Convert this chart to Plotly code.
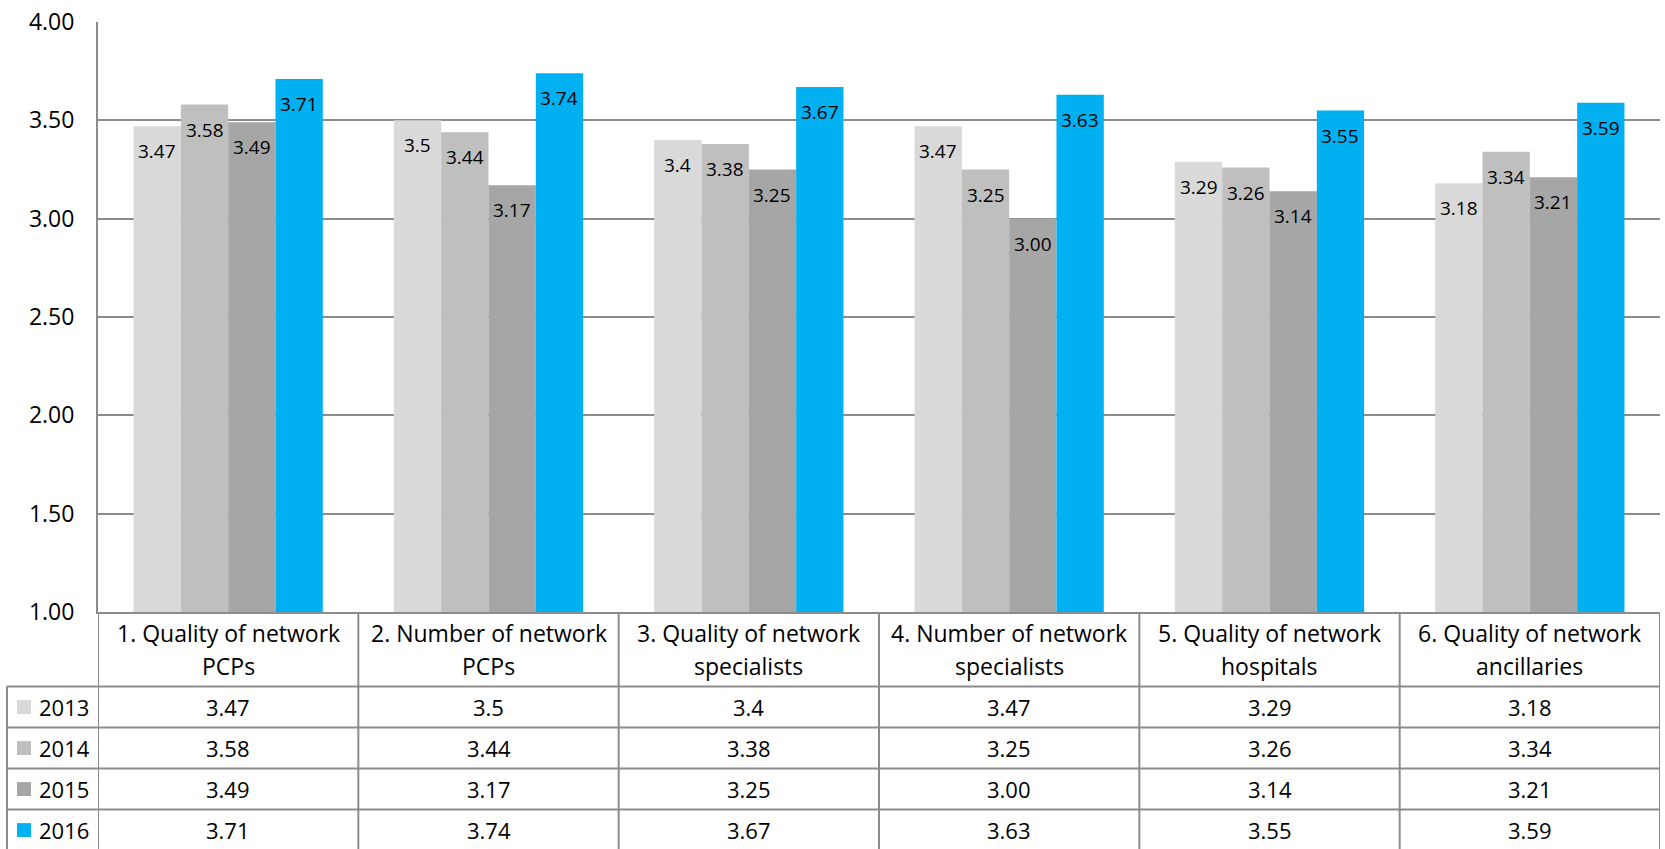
import plotly.graph_objects as go

# data
categories = [
    "1. Quality of network<br>PCPs",
    "2. Number of network<br>PCPs",
    "3. Quality of network<br>specialists",
    "4. Number of network<br>specialists",
    "5. Quality of network<br>hospitals",
    "6. Quality of network<br>ancillaries",
]
years = ["2013", "2014", "2015", "2016"]
scores_2013 = [3.47, 3.5, 3.4, 3.47, 3.29, 3.18]
scores_2014 = [3.58, 3.44, 3.38, 3.25, 3.26, 3.34]
scores_2015 = [3.49, 3.17, 3.25, 3.00, 3.14, 3.21]
scores_2016 = [3.71, 3.74, 3.67, 3.63, 3.55, 3.59]
y_ticks = [1.0, 1.5, 2.0, 2.5, 3.0, 3.5, 4.0]

series = [scores_2013, scores_2014, scores_2015, scores_2016]
colors = ["#d9d9d9", "#bfbfbf", "#a6a6a6", "#00b0f0"]
# 2013 is shown in general number format, the other years with 2 decimals
label_formats = ["{:g}", "{:.2f}", "{:.2f}", "{:.2f}"]

# page geometry (pixels)
W, H = 1665, 849
ML, MR, MT, MB = 98, 5, 18, 237
PLOT_W = W - ML - MR
PLOT_H = H - MT - MB
PLOT_BOTTOM = H - MB
HEADER_H = 75
ROW_H = 41.3
LEGEND_LEFT = 7
BARGAP = 0.273
LABEL_DROP = 25  # bar value labels sit this far below the bar top
LINE_COLOR = "#8c8c8c"
FONT = "Open Sans"


def px_x(px):
    return (px - ML) / PLOT_W


def px_y(py):
    return (PLOT_BOTTOM - py) / PLOT_H


fig = go.Figure()
shapes = []
annotations = []

n_series = len(series)
bar_w = (1 - BARGAP) / n_series
for k, (year, vals, color, fmt) in enumerate(zip(years, series, colors, label_formats)):
    fig.add_trace(go.Bar(
        x=list(range(len(categories))),
        y=vals,
        name=year,
        marker=dict(color=color, line=dict(width=0)),
        hoverinfo="skip",
    ))
    # value labels inside the top of each bar
    offset = -(1 - BARGAP) / 2 + (k + 0.5) * bar_w
    for i, v in enumerate(vals):
        annotations.append(dict(
            x=i + offset, xref="x", y=v, yref="y", yshift=-LABEL_DROP,
            text=fmt.format(v), showarrow=False, xanchor="center", yanchor="middle",
            font=dict(family=FONT, size=19, color="#000000"),
        ))

# header row: category names, two lines each
header_top = PLOT_BOTTOM
header_bottom = PLOT_BOTTOM + HEADER_H
line_centers = [header_top + 21, header_top + 54]
for i, cat in enumerate(categories):
    for j, part in enumerate(cat.split("<br>")):
        annotations.append(dict(
            x=i, xref="x", y=px_y(line_centers[j]), yref="paper",
            text=part, showarrow=False, xanchor="center", yanchor="middle",
            font=dict(family=FONT, size=23, color="#000000"),
        ))

# data rows
bottom = header_bottom + ROW_H * len(years)
for r, (year, vals, color, fmt) in enumerate(zip(years, series, colors, label_formats)):
    top = header_bottom + ROW_H * r
    mid = top + ROW_H / 2
    for i, v in enumerate(vals):
        annotations.append(dict(
            x=i, xref="x", y=px_y(mid), yref="paper",
            text=fmt.format(v), showarrow=False, xanchor="center", yanchor="middle",
            font=dict(family=FONT, size=22, color="#000000"),
        ))
    annotations.append(dict(
        x=px_x(37), xref="paper", y=px_y(mid), yref="paper",
        text=year, showarrow=False, xanchor="left", yanchor="middle",
        font=dict(family=FONT, size=22, color="#000000"),
    ))
    # legend swatch
    shapes.append(dict(
        type="rect", xref="paper", yref="paper",
        x0=px_x(17), x1=px_x(31), y0=px_y(mid - 7), y1=px_y(mid + 7),
        fillcolor=color, line=dict(width=0),
    ))
    # row top border
    shapes.append(dict(
        type="line", xref="paper", yref="paper",
        x0=px_x(LEGEND_LEFT), x1=1, y0=px_y(top), y1=px_y(top),
        line=dict(color=LINE_COLOR, width=2),
    ))

# vertical borders
for k in range(len(categories) + 1):
    shapes.append(dict(
        type="line", xref="x", yref="paper",
        x0=k - 0.5, x1=k - 0.5, y0=0, y1=px_y(bottom),
        line=dict(color=LINE_COLOR, width=2),
    ))
shapes.append(dict(
    type="line", xref="paper", yref="paper",
    x0=px_x(LEGEND_LEFT), x1=px_x(LEGEND_LEFT), y0=px_y(header_bottom), y1=px_y(bottom),
    line=dict(color=LINE_COLOR, width=2),
))

fig.update_layout(
    width=W, height=H, autosize=False,
    margin=dict(l=ML, r=MR, t=MT, b=MB, pad=0),
    plot_bgcolor="white", paper_bgcolor="white",
    barmode="group", bargap=BARGAP, bargroupgap=0,
    showlegend=False,
    font=dict(family=FONT, color="#000000"),
    xaxis=dict(
        range=[-0.5, len(categories) - 0.5],
        showticklabels=False, showgrid=False, zeroline=False,
        showline=True, linecolor=LINE_COLOR, linewidth=2,
    ),
    yaxis=dict(
        range=[y_ticks[0], y_ticks[-1]],
        tickvals=y_ticks, tickformat=".2f",
        tickfont=dict(family=FONT, size=23, color="#000000"),
        ticklabelstandoff=17,
        showgrid=True, gridcolor=LINE_COLOR, gridwidth=1.5,
        zeroline=False, showline=True, linecolor=LINE_COLOR, linewidth=2,
    ),
    shapes=shapes,
    annotations=annotations,
)

# drop the browser's default body margin so the figure fills the window
fig.write_html(
    "out.html",
    config={"displayModeBar": False},
    post_script="document.body.style.margin = '0';",
)
